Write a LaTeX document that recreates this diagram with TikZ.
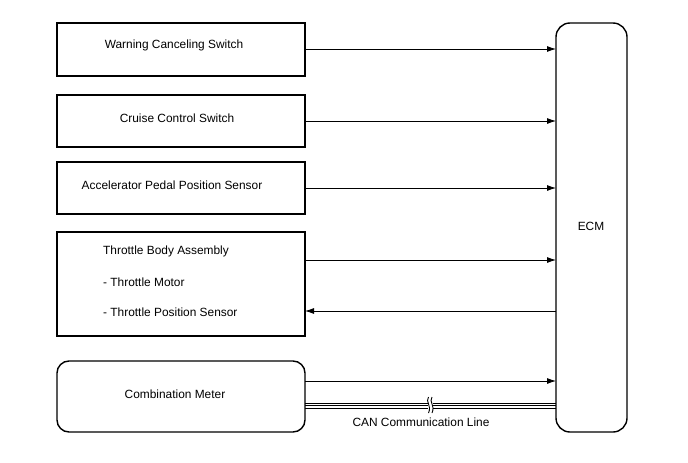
\documentclass[tikz,border=0pt]{standalone}
\usepackage{fontspec}
\setmainfont{Liberation Sans}
\usetikzlibrary{arrows.meta}
\begin{document}
\begin{tikzpicture}[x=1pt,y=-1pt,
  blk/.style={draw,line width=1.4pt},
  lbl/.style={font=\fontsize{11.9}{14}\selectfont,inner sep=0pt},
  sig/.style={line width=0.8pt,-{Latex[length=9pt,width=6pt]}}]
\useasboundingbox (0,0) rectangle (688,463);
\draw[blk] (57,23) rectangle (305,76);
\node[lbl] (wcs) at (174,45) {Warning Canceling Switch};
\draw[blk] (57,95) rectangle (305,147);
\node[lbl] (ccs) at (177,118) {Cruise Control Switch};
\draw[blk] (57,162) rectangle (305,214);
\node[lbl] (apps) at (172,185) {Accelerator Pedal Position Sensor};
\draw[blk] (57,232) rectangle (305,336);
\node[lbl,anchor=west] (tba) at (103,251) {Throttle Body Assembly};
\node[lbl,anchor=west] (tm) at (103,282) {- Throttle Motor};
\node[lbl,anchor=west] (tps) at (103,312) {- Throttle Position Sensor};
\draw[blk,rounded corners=12pt] (57,361) rectangle (305,432);
\node[lbl] (cm) at (175,394) {Combination Meter};
\draw[blk,rounded corners=14pt] (556,23) rectangle (627,432);
\node[lbl] (ecm) at (591,226) {ECM};
\coordinate (L1) at (305,49); \coordinate (R1) at (556,49);
\coordinate (L2) at (305,121); \coordinate (R2) at (556,121);
\coordinate (L3) at (305,188); \coordinate (R3) at (556,188);
\coordinate (L4) at (305,260); \coordinate (R4) at (556,260);
\coordinate (L5) at (305,311); \coordinate (R5) at (556,311);
\coordinate (L6) at (305,381); \coordinate (R6) at (556,381);
\draw[sig] (L1) -- (R1);
\draw[sig] (L2) -- (R2);
\draw[sig] (L3) -- (R3);
\draw[sig] (L4) -- (R4);
\draw[sig] (R5) -- (L5);
\draw[sig] (L6) -- (R6);
% CAN line
\foreach \yy in {403,405.6,408.2}{
  \draw[line width=0.9pt] (305,\yy) -- (556,\yy);
}
\fill[white] (427.5,400) rectangle (432.5,411.5);
\draw[line width=0.9pt] (428.5,397) .. controls (425,402) and (432,405) .. (428.5,413);
\draw[line width=0.9pt] (432,397) .. controls (428.5,402) and (435.5,405) .. (432,413);
\node[lbl] (can) at (421,422) {CAN Communication Line};
\end{tikzpicture}
\end{document}
